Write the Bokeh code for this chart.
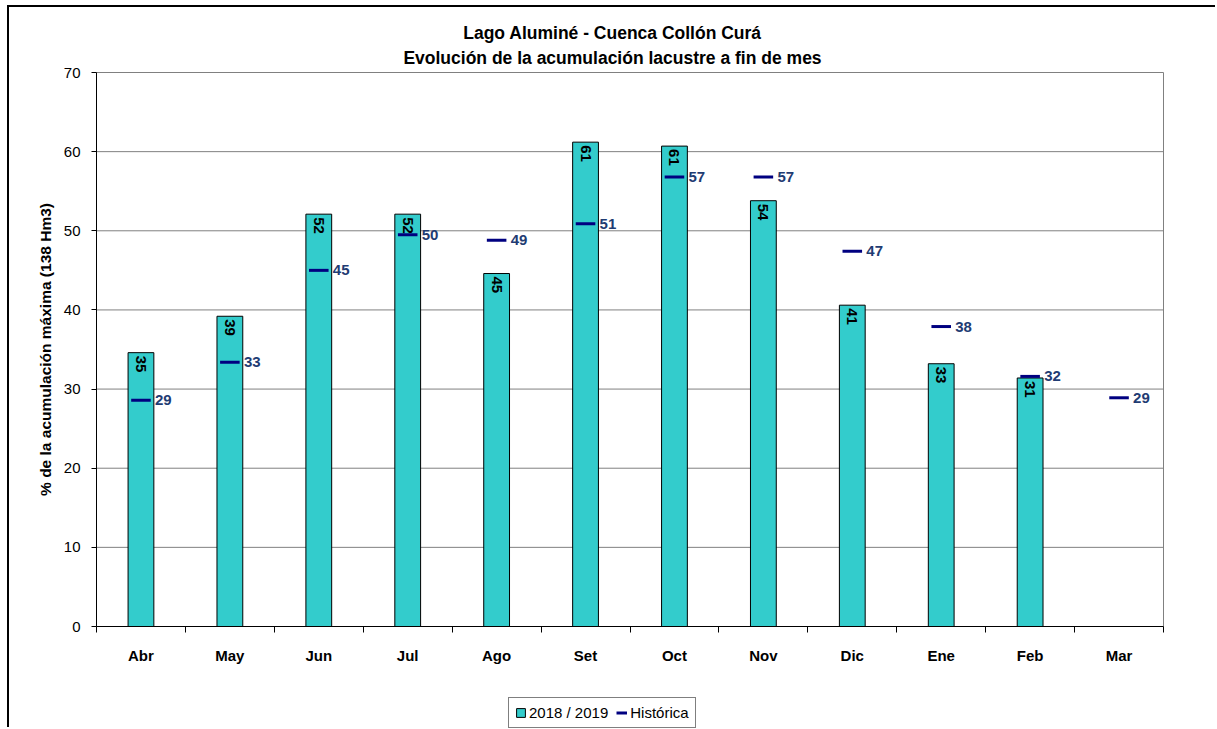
import math
from bokeh.plotting import figure
from bokeh.models import (ColumnDataSource, FixedTicker, Label, Legend, LegendItem)
from bokeh.embed import file_html
from bokeh.resources import INLINE

months = ["Abr", "May", "Jun", "Jul", "Ago", "Set", "Oct", "Nov", "Dic", "Ene", "Feb", "Mar"]
actual = [34.6, 39.2, 52.1, 52.1, 44.6, 61.2, 60.7, 53.8, 40.6, 33.2, 31.4, float("nan")]
historica = [28.6, 33.4, 45.0, 49.5, 48.8, 50.9, 56.8, 56.8, 47.4, 37.9, 31.6, 28.9]
y_ticks = [0, 10, 20, 30, 40, 50, 60, 70]

FONT = "Liberation Sans"
idx = list(range(len(months)))
centers = [i + 0.5 for i in idx]
n = len(months)
y_max = y_ticks[-1]

# canvas geometry (pixels): canvas spans x 9..1217, y 7..729; plot area x 96..1163, y 72..626
W, H = 1208, 722
PX_X = 1067 / 12.0
PX_Y = 554 / 70.0
x_start = (9 - 96) / PX_X
x_end = (1217 - 96) / PX_X
y_end = (626 - 7) / PX_Y
y_start = (626 - 729) / PX_Y

bar_src = ColumnDataSource(dict(
    x=[c for c, v in zip(centers, actual) if not math.isnan(v)],
    top=[v for v in actual if not math.isnan(v)],
    lbl=[str(round(v)) for v in actual if not math.isnan(v)],
))
hist_src = ColumnDataSource(dict(
    x=centers,
    x0=[c - 0.11 for c in centers],
    x1=[c + 0.11 for c in centers],
    y=historica,
    lbl=[str(round(v)) for v in historica],
))

p = figure(width=W, height=H, output_backend="svg", toolbar_location=None,
           x_range=(x_start, x_end), y_range=(y_start, y_end), min_border=0)
p.title = None
p.styles = {"border-left": "2px solid black", "border-top": "2px solid black",
            "margin-left": "7px", "margin-top": "5px"}
p.outline_line_color = None
p.background_fill_color = "white"
p.xgrid.grid_line_color = None
p.ygrid.grid_line_color = None

# horizontal grid lines across the plot area and its right border
p.segment(x0=0, x1=n, y0=y_ticks[1:], y1=y_ticks[1:], line_color="#808080", line_width=1)
p.segment(x0=n, x1=n, y0=0, y1=y_max, line_color="#808080", line_width=1)

bars = p.vbar(x="x", top="top", width=0.29, source=bar_src,
              fill_color="#33CCCC", line_color="black", line_width=1)

p.text(x="x", y="top", text="lbl", source=bar_src, angle=-math.pi / 2,
       text_align="left", text_baseline="middle", y_offset=3,
       text_font={"value": FONT}, text_font_style="bold", text_font_size="15px",
       text_color="black")

dash = p.segment(x0="x0", x1="x1", y0="y", y1="y", source=hist_src,
                 line_color="#000080", line_width=3)
p.text(x="x", y="y", text="lbl", source=hist_src,
       text_align="left", text_baseline="middle", x_offset=14,
       text_font={"value": FONT}, text_font_style="bold", text_font_size="15px",
       text_color="#1F3C73")

# x axis
p.xaxis.fixed_location = 0
p.xaxis.bounds = (0, n)
p.xaxis.ticker = FixedTicker(ticks=centers, minor_ticks=list(range(n + 1)))
p.xaxis.major_label_overrides = {c: m for c, m in zip(centers, months)}
p.xaxis.major_tick_out = 0
p.xaxis.major_tick_in = 0
p.xaxis.minor_tick_out = 6
p.xaxis.minor_tick_in = 0
p.xaxis.minor_tick_line_color = "black"
p.xaxis.axis_line_color = "black"
p.xaxis.major_label_standoff = 14
p.xaxis.major_label_text_font = FONT
p.xaxis.major_label_text_font_style = "bold"
p.xaxis.major_label_text_font_size = "15px"
p.xaxis.major_label_text_color = "black"

# y axis
p.yaxis.fixed_location = 0
p.yaxis.bounds = (0, y_max)
p.yaxis.ticker = FixedTicker(ticks=y_ticks, minor_ticks=[])
p.yaxis.major_tick_out = 5
p.yaxis.major_tick_in = 0
p.yaxis.major_tick_line_color = "black"
p.yaxis.axis_line_color = "black"
p.yaxis.major_label_standoff = 11
p.yaxis.major_label_text_font = FONT
p.yaxis.major_label_text_font_size = "15px"
p.yaxis.major_label_text_color = "black"

# titles and axis title
for txt, yy in [("Lago Aluminé - Cuenca Collón Curá", (626 - 32) / PX_Y),
                ("Evolución de la acumulación lacustre a fin de mes", (626 - 57) / PX_Y)]:
    p.add_layout(Label(x=(612 - 96) / PX_X, y=yy, text=txt, text_align="center",
                       text_baseline="middle", text_font=FONT, text_font_style="bold",
                       text_font_size="17.5px", text_color="black"))
p.add_layout(Label(x=(45 - 96) / PX_X, y=y_max / 2,
                   text="% de la acumulación máxima (138 Hm3)",
                   angle=math.pi / 2, text_align="center", text_baseline="middle",
                   text_font=FONT, text_font_style="bold", text_font_size="15.5px",
                   text_color="black"))

legend = Legend(items=[LegendItem(label="2018 / 2019", renderers=[bars]),
                       LegendItem(label="Histórica", renderers=[dash])],
                orientation="horizontal", location=(499, 1))
legend.border_line_color = "black"
legend.border_line_width = 1
legend.padding = 6
legend.margin = 0
legend.spacing = 8
legend.glyph_width = 11
legend.glyph_height = 11
legend.label_standoff = 3
legend.label_height = 17
legend.label_text_font = FONT
legend.label_text_font_size = "15px"
legend.label_text_color = "black"
legend.background_fill_alpha = 1
p.add_layout(legend, "center")

open("out.html", "w").write(file_html(p, INLINE))
